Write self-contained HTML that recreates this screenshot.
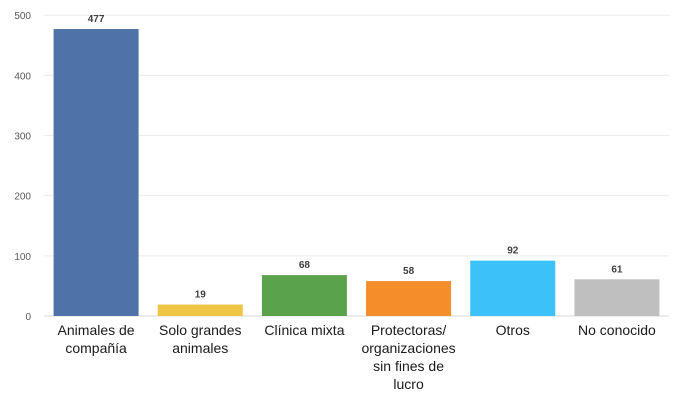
<!DOCTYPE html>
<html><head><meta charset="utf-8"><style>
html,body{margin:0;padding:0;background:#fff;}
svg{display:block;font-family:"Liberation Sans",sans-serif;}
</style></head><body>
<svg id="chart" width="677" height="402"></svg>
<script>
const categories=[["Animales de","compañía"],["Solo grandes","animales"],["Clínica mixta"],["Protectoras/","organizaciones","sin fines de","lucro"],["Otros"],["No conocido"]];
const values=[477,19,68,58,92,61];
const colors=["#4e73a8","#eec643","#5aa34c","#f58d2b","#3cc1f8","#bfbfbf"];
const ticks=[0,100,200,300,400,500];
const NS="http://www.w3.org/2000/svg";
const svg=document.getElementById("chart");
const x0=44,x1=669,y0=316,yTop=15.2,maxV=500;
const bw=(x1-x0)/categories.length;
function y(v){return y0-(v/maxV)*(y0-yTop);}
function xc(i){return x0+bw*(i+0.5);}
function mk(t,a){const e=document.createElementNS(NS,t);for(const k in a)e.setAttribute(k,a[k]);svg.appendChild(e);return e;}
ticks.forEach(t=>{
  const g=mk("line",{x1:x0,x2:x1,y1:y(t),y2:y(t),stroke:t===0?"#d9d9d9":"#ececec","stroke-width":1});
  
  
  const l=mk("text",{x:31,y:y(t)+4,"text-anchor":"end","font-size":10,fill:"#595959"});
  l.textContent=t;
  
  
});
values.forEach((v,i)=>{
  const b=mk("rect",{x:xc(i)-42.5,y:y(v),width:85,height:y0-y(v),fill:colors[i]});
  
  
  const t=mk("text",{x:xc(i),y:y(v)-7,"text-anchor":"middle","font-size":10,"font-weight":"bold",fill:"#404040"});
  t.textContent=v;
  
  
  categories[i].forEach((line,j)=>{
    const c=mk("text",{x:xc(i),y:335+j*18,"text-anchor":"middle","font-size":14,fill:"#1a1a1a"});
    c.textContent=line;
    
    
  });
});
</script>
</body></html>
